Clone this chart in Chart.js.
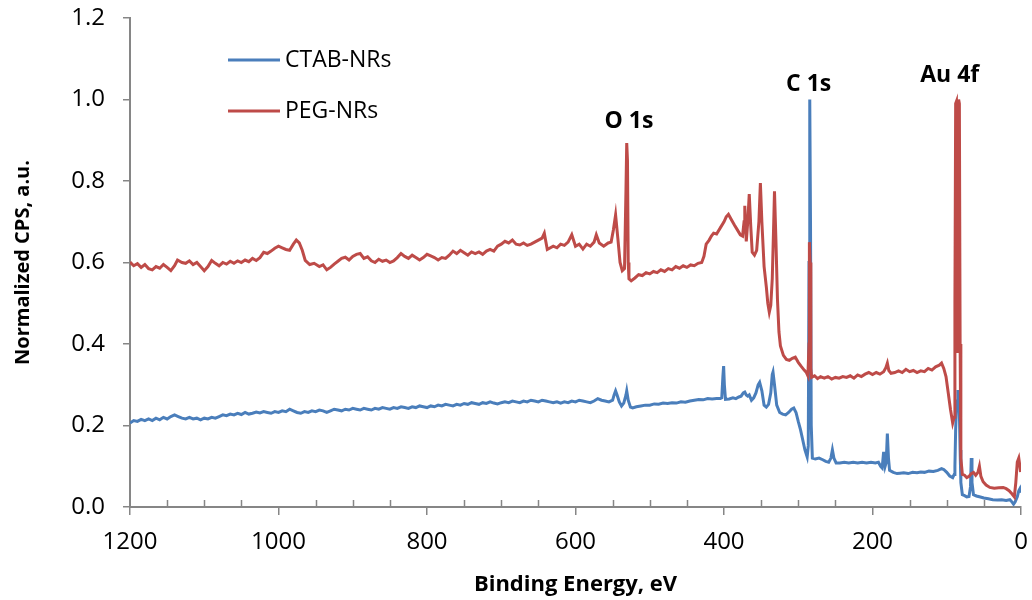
<!DOCTYPE html>
<html>
<head>
<meta charset="utf-8">
<script src="https://cdn.jsdelivr.net/npm/chart.js@4.4.1/dist/chart.umd.min.js"></script>
<style>
  html, body { margin: 0; padding: 0; background: #fff; }
  #wrap { width: 1032px; height: 600px; }
</style>
</head>
<body>
<div id="wrap"><canvas id="myChart" width="1032" height="600"></canvas></div>
<script>
// Binding energy (eV) and normalized CPS
var ctabEnergy = [1200,1195,1190,1185,1180,1175,1170,1165,1160,1155,1150,1145,1140,1135,1130,1125,1120,1115,1110,1105,1100,1095,1090,1085,1080,1075,1070,1065,1060,1055,1050,1045,1040,1035,1030,1025,1020,1015,1010,1005,1000,995,990,985,980,975,970,965,960,955,950,945,940,935,930,925,920,915,910,905,900,895,890,885,880,875,870,865,860,855,850,845,840,835,830,825,820,815,810,805,800,795,790,785,780,775,770,765,760,755,750,745,740,735,730,725,720,715,710,705,700,695,690,685,680,675,670,665,660,655,650,645,640,635,630,625,620,615,610,605,600,595,590,585,580,575,570,565,560,555,550,548,546,544,541,538,535,532,531,529,526,523,518,512,506,500,494,488,482,476,470,464,458,452,446,440,434,428,422,416,410,405,403,401.5,400.5,399.5,398,393,388,384,380,377,374,372,370,368,366,363,360,357,354,352,349,346,343,340,337,335,334,332,329,325,321,317,313,309,306,303,300,297,294,291,288,286.5,285.5,284.5,283.5,282.5,281,277,272,267,263,259,256,254,252,249,244,238,232,226,220,214,208,202,196,192,189,187,185,183,181.5,180,178.5,177,172,167,163,158,152,146,140,135,130,124,118,112,107,104,100,96,92,90,89,88,87,86,85,84,83,82,81,79,76,73,70,68,67,66,64,60,56,50,44,38,32,26,20,15,12,10,8,5,3,1.5,0.5];
var ctabCps = [0.206,0.212,0.210,0.215,0.212,0.216,0.212,0.218,0.214,0.220,0.216,0.222,0.226,0.222,0.218,0.216,0.220,0.216,0.218,0.214,0.218,0.216,0.220,0.218,0.222,0.226,0.224,0.228,0.226,0.230,0.227,0.232,0.228,0.230,0.233,0.231,0.234,0.232,0.230,0.234,0.232,0.236,0.234,0.240,0.236,0.232,0.230,0.234,0.232,0.236,0.234,0.238,0.236,0.232,0.236,0.240,0.238,0.236,0.240,0.238,0.242,0.240,0.238,0.242,0.240,0.238,0.242,0.240,0.244,0.242,0.240,0.244,0.242,0.246,0.244,0.242,0.246,0.244,0.248,0.246,0.244,0.248,0.246,0.250,0.248,0.252,0.250,0.248,0.252,0.250,0.254,0.252,0.256,0.254,0.252,0.256,0.254,0.258,0.255,0.253,0.256,0.258,0.256,0.260,0.258,0.256,0.260,0.258,0.262,0.260,0.258,0.262,0.260,0.258,0.256,0.258,0.255,0.258,0.256,0.260,0.258,0.262,0.260,0.258,0.256,0.260,0.266,0.262,0.260,0.258,0.262,0.275,0.285,0.275,0.258,0.248,0.255,0.275,0.285,0.262,0.245,0.243,0.246,0.248,0.250,0.250,0.253,0.252,0.255,0.254,0.256,0.255,0.258,0.257,0.260,0.262,0.264,0.263,0.266,0.265,0.266,0.266,0.268,0.320,0.346,0.300,0.264,0.265,0.268,0.266,0.270,0.272,0.280,0.282,0.275,0.272,0.275,0.262,0.268,0.280,0.300,0.306,0.285,0.250,0.245,0.252,0.280,0.325,0.331,0.300,0.250,0.232,0.228,0.226,0.232,0.240,0.243,0.232,0.210,0.190,0.165,0.140,0.123,0.150,0.600,1.000,0.700,0.200,0.120,0.118,0.120,0.116,0.112,0.110,0.120,0.140,0.120,0.108,0.108,0.110,0.108,0.110,0.108,0.110,0.108,0.110,0.108,0.110,0.100,0.096,0.135,0.100,0.110,0.180,0.120,0.090,0.085,0.082,0.083,0.084,0.082,0.085,0.084,0.086,0.085,0.088,0.087,0.090,0.094,0.092,0.085,0.076,0.072,0.080,0.100,0.190,0.240,0.260,0.287,0.270,0.230,0.140,0.060,0.030,0.028,0.025,0.026,0.050,0.120,0.060,0.030,0.027,0.025,0.022,0.020,0.018,0.017,0.018,0.016,0.018,0.012,0.007,0.012,0.025,0.040,0.045,0.035];

var pegEnergy = [1200,1195,1190,1185,1180,1175,1170,1165,1160,1155,1150,1145,1140,1136,1130,1125,1120,1115,1110,1105,1100,1095,1090,1085,1080,1075,1070,1065,1060,1055,1050,1045,1040,1035,1030,1025,1020,1015,1010,1005,1000,995,990,985,980,976,972,968,964,958,952,945,940,935,930,925,920,915,910,905,900,895,890,885,880,875,870,865,860,855,850,845,840,835,830,825,820,815,810,805,800,795,790,785,780,775,770,765,760,755,750,745,740,735,730,725,720,715,710,705,700,695,690,685,680,675,670,665,660,655,650,645,642,638,630,625,620,615,610,605,600,595,590,585,580,575,572,568,562,556,552,549,546,543,540,537,534,532,531,530,529,528,525,520,515,510,505,500,495,490,485,480,475,470,465,460,455,450,445,440,435,430,427,424,420,417,414,410,405,400,397,394,390,386,382,378,375,373,372,371,370,368,366,364,362,359,356,353,351,349,346,343,341,339,337,335,333,332,330,328,326,324,320,316,312,308,304,300,296,292,289,287,285.5,285,284,283,282,278,274,270,265,260,255,250,245,240,235,230,225,220,215,210,205,200,195,190,185,182,180,178,175,170,165,160,155,150,145,140,135,130,125,120,115,110,107,104,101,98,95,92,90,89,88,87,86,85,84.5,84,83,82,81,79,76,73,70,67,64,61,58,56,54,51,47,42,36,30,24,20,16,12,9,7,5,3,1.5,0.5];
var pegCps = [0.601,0.592,0.597,0.588,0.595,0.585,0.582,0.590,0.586,0.595,0.588,0.580,0.592,0.606,0.600,0.598,0.604,0.595,0.600,0.590,0.580,0.590,0.605,0.598,0.592,0.600,0.596,0.603,0.598,0.604,0.600,0.606,0.602,0.610,0.605,0.612,0.625,0.622,0.628,0.635,0.640,0.636,0.632,0.630,0.645,0.655,0.648,0.630,0.605,0.595,0.598,0.590,0.594,0.582,0.588,0.596,0.603,0.610,0.613,0.606,0.615,0.620,0.622,0.610,0.614,0.604,0.600,0.608,0.603,0.606,0.600,0.604,0.612,0.622,0.615,0.610,0.618,0.612,0.606,0.612,0.620,0.616,0.612,0.606,0.612,0.610,0.618,0.628,0.622,0.630,0.624,0.618,0.626,0.622,0.626,0.620,0.628,0.632,0.628,0.640,0.645,0.652,0.648,0.655,0.645,0.643,0.648,0.642,0.645,0.650,0.655,0.660,0.672,0.632,0.640,0.636,0.645,0.642,0.650,0.668,0.640,0.645,0.633,0.645,0.640,0.650,0.668,0.648,0.640,0.648,0.650,0.680,0.717,0.660,0.600,0.580,0.585,0.780,0.893,0.850,0.600,0.560,0.555,0.562,0.570,0.568,0.575,0.572,0.578,0.575,0.582,0.578,0.585,0.582,0.590,0.586,0.592,0.588,0.594,0.592,0.598,0.600,0.615,0.645,0.655,0.665,0.672,0.670,0.685,0.700,0.712,0.718,0.705,0.692,0.680,0.668,0.665,0.700,0.739,0.690,0.652,0.700,0.768,0.690,0.625,0.618,0.630,0.700,0.795,0.700,0.590,0.540,0.500,0.478,0.495,0.560,0.700,0.775,0.650,0.510,0.430,0.395,0.372,0.362,0.360,0.365,0.368,0.355,0.345,0.336,0.330,0.322,0.400,0.650,0.600,0.340,0.318,0.322,0.315,0.320,0.316,0.320,0.314,0.318,0.316,0.320,0.318,0.322,0.316,0.324,0.320,0.326,0.330,0.325,0.330,0.326,0.332,0.342,0.353,0.335,0.328,0.330,0.334,0.330,0.338,0.332,0.335,0.330,0.334,0.332,0.340,0.336,0.344,0.348,0.353,0.340,0.320,0.280,0.240,0.206,0.220,0.500,0.990,0.995,0.520,0.378,0.700,1.000,0.990,0.400,0.120,0.080,0.078,0.072,0.075,0.082,0.085,0.078,0.085,0.100,0.075,0.062,0.054,0.048,0.046,0.047,0.048,0.045,0.040,0.032,0.025,0.060,0.110,0.120,0.100,0.086];

var seriesNames = ['CTAB-NRs', 'PEG-NRs'];
var peakLabels = ['O 1s', 'C 1s', 'Au 4f'];
var peakLabelEnergy = [528, 286, 96];
var peakLabelCps = [0.945, 1.036, 1.06];
var xTicks = [1200, 1000, 800, 600, 400, 200, 0];
var yTicks = [0, 0.2, 0.4, 0.6, 0.8, 1.0, 1.2];

function pairs(xs, ys) {
  return xs.map(function (x, i) { return { x: x, y: ys[i] }; });
}

var axisGray = '#868686';
var tickFont = { family: 'Open Sans', size: 24 };

// short inside ticks every 50 eV on the x axis
var minorTicks = {
  id: 'minorTicks',
  afterDraw: function (chart) {
    var c = chart.ctx, xs = chart.scales.x, bottom = chart.chartArea.bottom;
    c.save();
    c.strokeStyle = axisGray;
    c.lineWidth = 1.5;
    for (var v = 50; v < 1200; v += 50) {
      if (v % 200 === 0) continue;
      var px = Math.round(xs.getPixelForValue(v)) + 0.5;
      c.beginPath();
      c.moveTo(px, bottom);
      c.lineTo(px, bottom - 7);
      c.stroke();
    }
    c.restore();
  }
};

// legend, peak labels and axis titles
var overlay = {
  id: 'overlay',
  afterDraw: function (chart) {
    var c = chart.ctx, xs = chart.scales.x, ys = chart.scales.y, a = chart.chartArea;
    c.save();
    chart.data.datasets.forEach(function (ds, i) {
      var y = 60 + i * 51;
      c.strokeStyle = ds.borderColor;
      c.lineWidth = 3;
      c.beginPath();
      c.moveTo(228, y);
      c.lineTo(280, y);
      c.stroke();
      c.fillStyle = '#000';
      c.font = '23px "Open Sans"';
      c.textAlign = 'left';
      c.textBaseline = 'middle';
      c.fillText(ds.label, 285, y);
    });
    c.font = 'bold 23px "Open Sans"';
    c.textAlign = 'center';
    c.textBaseline = 'middle';
    c.fillStyle = '#000';
    peakLabels.forEach(function (t, i) {
      c.fillText(t, xs.getPixelForValue(peakLabelEnergy[i]), ys.getPixelForValue(peakLabelCps[i]));
    });
    c.font = 'bold 22px "Open Sans"';
    c.fillText('Binding Energy, eV', (a.left + a.right) / 2, 585);
    c.font = 'bold 20px "Open Sans"';
    c.translate(23, (a.top + a.bottom) / 2);
    c.rotate(-Math.PI / 2);
    c.fillText('Normalized CPS, a.u.', 0, 0);
    c.restore();
  }
};

var ctx = document.getElementById('myChart').getContext('2d');
var myChart = new Chart(ctx, {
  type: 'line',
  data: {
    datasets: [{
      label: seriesNames[0],
      data: pairs(ctabEnergy, ctabCps),
      borderColor: '#4A7EBB',
      borderWidth: 3,
      pointRadius: 0,
      tension: 0,
      order: 1
    }, {
      label: seriesNames[1],
      data: pairs(pegEnergy, pegCps),
      borderColor: '#BE4B48',
      borderWidth: 3,
      pointRadius: 0,
      tension: 0,
      order: 0
    }]
  },
  options: {
    responsive: false,
    animation: false,
    layout: { padding: { left: 0, right: 11, top: 18, bottom: 0 } },
    plugins: {
      legend: { display: false },
      tooltip: { enabled: false }
    },
    scales: {
      x: {
        type: 'linear',
        reverse: true,
        min: 0,
        max: 1200,
        afterBuildTicks: function (s) { s.ticks = xTicks.map(function (v) { return { value: v }; }); },
        afterFit: function (s) {
          s.height = 93;
          s.paddingLeft = 0; s.paddingRight = 0;
        },
        ticks: {
          font: tickFont, color: '#000', padding: 13, maxRotation: 0,
          callback: function (v) { return String(v); }
        },
        grid: { drawOnChartArea: false, color: axisGray, tickLength: 8, lineWidth: 1.5 },
        border: { color: axisGray, width: 2 }
      },
      y: {
        min: 0,
        max: 1.2,
        afterBuildTicks: function (s) { s.ticks = yTicks.map(function (v) { return { value: v }; }); },
        afterFit: function (s) {
          s.width = 130;
          s.paddingTop = 0; s.paddingBottom = 0;
        },
        ticks: {
          font: tickFont, color: '#000', padding: 18,
          callback: function (v) { return v.toFixed(1); }
        },
        grid: { drawOnChartArea: false, color: axisGray, tickLength: 7, lineWidth: 1.5 },
        border: { color: axisGray, width: 2 }
      }
    }
  },
  plugins: [minorTicks, overlay]
});
</script>
</body>
</html>
